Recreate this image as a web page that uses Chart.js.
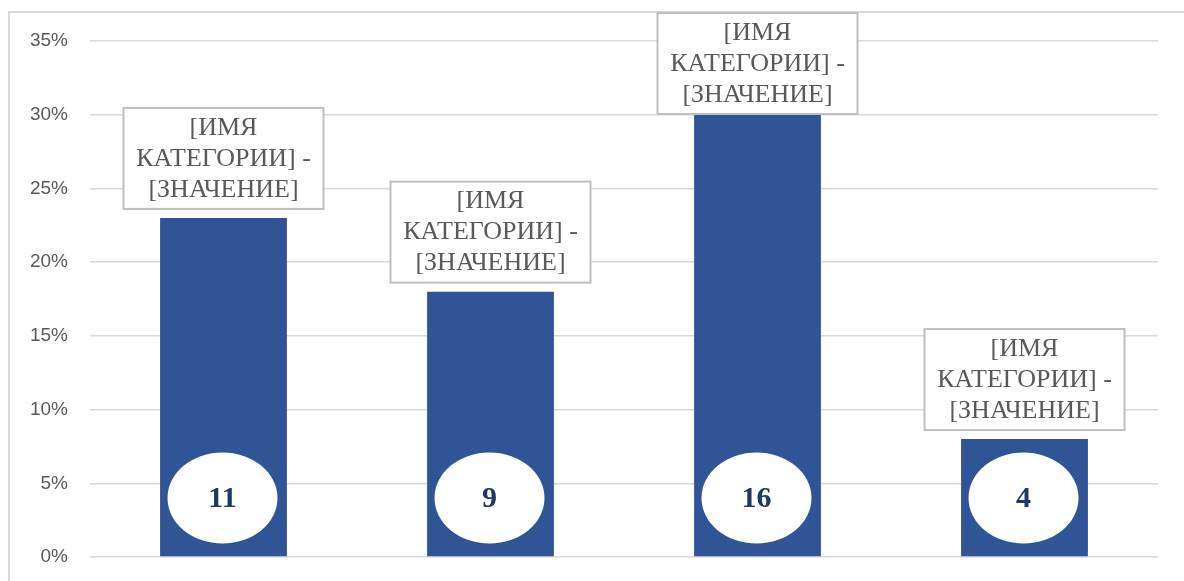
<!DOCTYPE html>
<html>
<head>
<meta charset="utf-8">
<script src="https://cdn.jsdelivr.net/npm/chart.js@4/dist/chart.umd.min.js"></script>
<style>
html,body{margin:0;padding:0;background:#fff;}
#wrap{width:1184px;height:581px;position:relative;}
</style>
</head>
<body>
<div id="wrap"><canvas id="c" width="1184" height="581"></canvas></div>
<script>
const categories = ["A", "B", "C", "D"];
const shares = [0.23, 0.18, 0.33, 0.08];
const counts = [11, 9, 16, 4];
const labelLines = ["[ИМЯ", "КАТЕГОРИИ] -", "[ЗНАЧЕНИЕ]"];
const yTicks = [0, 0.05, 0.10, 0.15, 0.20, 0.25, 0.30, 0.35];

const decor = {
  id: 'decor',
  beforeDraw(chart) {
    const ctx = chart.ctx;
    ctx.save();
    ctx.strokeStyle = '#D9D9D9';
    ctx.lineWidth = 2;
    ctx.beginPath();
    ctx.moveTo(9, 590);
    ctx.lineTo(9, 12);
    ctx.lineTo(1200, 12);
    ctx.stroke();
    ctx.restore();
  },
  afterDatasetsDraw(chart) {
    const ctx = chart.ctx;
    const meta = chart.getDatasetMeta(0);
    const yScale = chart.scales.y;
    meta.data.forEach((bar, i) => {
      // ellipse with count
      const cy = yScale.getPixelForValue(0.0400);
      ctx.save();
      ctx.fillStyle = '#FFFFFF';
      ctx.beginPath();
      ctx.ellipse(bar.x - 1, cy, 55, 45.5, 0, 0, Math.PI * 2);
      ctx.fill();
      ctx.fillStyle = '#1F3864';
      ctx.font = 'bold 30px "Liberation Serif"';
      ctx.textAlign = 'center';
      ctx.textBaseline = 'middle';
      ctx.fillText(String(counts[i]), bar.x - 1, cy + 1);
      ctx.restore();

      // label box
      const w = 200, h = 101;
      let top = bar.y - 9 - h;
      if (top < 13) top = 13;
      const left = bar.x - w / 2;
      ctx.save();
      ctx.fillStyle = '#FFFFFF';
      ctx.fillRect(left, top, w, h);
      ctx.strokeStyle = '#BFBFBF';
      ctx.lineWidth = 2;
      ctx.strokeRect(left, top, w, h);
      ctx.fillStyle = '#595959';
      ctx.font = '26px "Liberation Serif"';
      ctx.textAlign = 'center';
      ctx.textBaseline = 'middle';
      labelLines.forEach((t, k) => {
        ctx.fillText(t, bar.x, top + 20 + k * 31);
      });
      ctx.restore();
    });
  }
};

new Chart(document.getElementById('c'), {
  type: 'bar',
  data: {
    labels: categories,
    datasets: [{
      data: shares,
      backgroundColor: '#2F5597',
      categoryPercentage: 1,
      barPercentage: 0.475
    }]
  },
  options: {
    responsive: false,
    animation: false,
    devicePixelRatio: 1,
    layout: { padding: { top: 41, right: 26, bottom: 24, left: 0 } },
    plugins: { legend: { display: false }, tooltip: { enabled: false } },
    scales: {
      x: { display: false },
      y: {
        min: 0, max: 0.35,
        afterFit(axis) { axis.width = 90; axis.paddingTop = 0; axis.paddingBottom = 0; },
        afterBuildTicks(axis) { axis.ticks = yTicks.map(v => ({ value: v })); },
        border: { display: false },
        grid: { color: '#D9D9D9', lineWidth: 1.5, drawTicks: false },
        ticks: {
          padding: 22,
          color: '#595959',
          font: { family: '"Liberation Sans", Arial, sans-serif', size: 19 },
          callback: v => Math.round(v * 100) + '%'
        }
      }
    }
  },
  plugins: [decor]
});
</script>
</body>
</html>
